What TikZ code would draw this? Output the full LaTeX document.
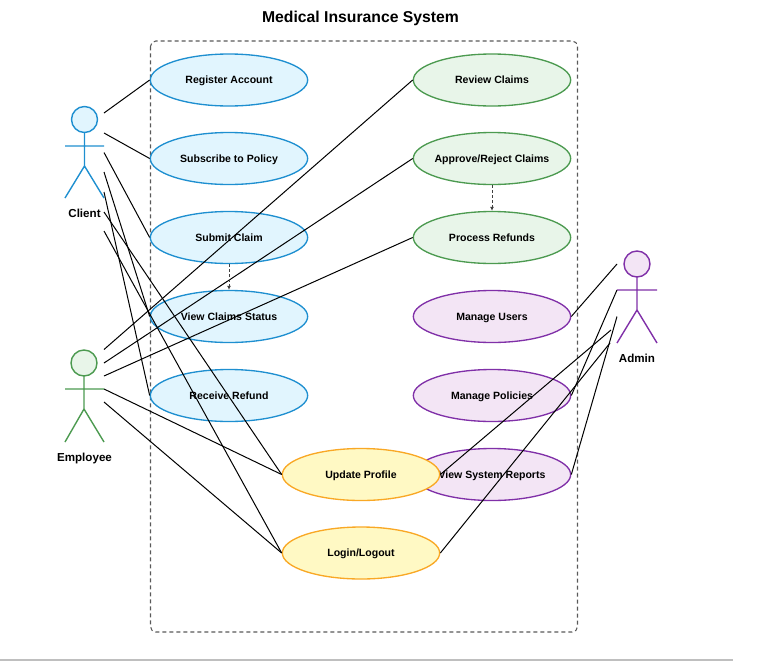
\documentclass[tikz,border=0pt]{standalone}
\usepackage{fontspec}
\setmainfont{Liberation Sans}
\usetikzlibrary{shapes.geometric,arrows.meta}
\begin{document}
\begin{tikzpicture}[x=0.75pt,y=-0.75pt, every node/.style={font=\fontsize{7.9pt}{10pt}\selectfont\bfseries},
  usecase/.style={draw,line width=1pt,ellipse,minimum width=118pt,minimum height=39pt,inner ysep=0pt,inner xsep=-10pt,text height=7pt,text depth=1.5pt},
  client/.style={usecase,draw=clientline,fill=clientfill},
  staff/.style={usecase,draw=staffline,fill=stafffill},
  admin/.style={usecase,draw=adminline,fill=adminfill},
  common/.style={usecase,draw=commonline,fill=commonfill},
  actor/.style={line width=1.05pt},
  actorlabel/.style={font=\fontsize{8.7pt}{10pt}\selectfont\bfseries},
  assoc/.style={black,line width=0.75pt},
  incl/.style={black!75,line width=0.7pt,dash pattern=on 2.25pt off 1.5pt,-{Latex[length=3pt,width=3pt]}}]
\definecolor{clientline}{HTML}{1E8FD0}
\definecolor{clientfill}{HTML}{E1F5FE}
\definecolor{staffline}{HTML}{4C9A50}
\definecolor{stafffill}{HTML}{E8F5E9}
\definecolor{adminline}{HTML}{8030A8}
\definecolor{adminfill}{HTML}{F3E5F5}
\definecolor{commonline}{HTML}{F9A825}
\definecolor{commonfill}{HTML}{FFF9C4}
\useasboundingbox (0,0) rectangle (775,661);
\fill[black!25] (0,658.8) rectangle (733,661);
\node[font=\fontsize{11.8pt}{14pt}\selectfont\bfseries] (title) at (360.5,18.5) {Medical Insurance System};
\draw[black!65,line width=0.8pt,dash pattern=on 3pt off 2.25pt,rounded corners=4pt] (150.5,41) rectangle (577.5,632);
\node[client] (register) at (229,80) {Register Account};
\node[client] (subscribe) at (229,158.5) {Subscribe to Policy};
\node[client] (submit) at (229,237.5) {Submit Claim};
\node[client] (status) at (229,316.5) {View Claims Status};
\node[client] (refund) at (229,395.5) {Receive Refund};
\node[staff] (review) at (492,80) {Review Claims};
\node[staff] (approve) at (492,158.5) {Approve/Reject Claims};
\node[staff] (process) at (492,237.5) {Process Refunds};
\node[admin] (users) at (492,316.5) {Manage Users};
\node[admin] (policies) at (492,395.5) {Manage Policies};
\node[admin] (reports) at (492,474.5) {View System Reports};
\node[common] (profile) at (361,474.5) {Update Profile};
\node[common] (login) at (361,553) {Login/Logout};
% client actor
\draw[clientline,actor,fill=clientfill] (84.5,119.5) circle (9.75pt);
\draw[clientline,actor] (84.5,133) -- (84.5,166) (65,146) -- (104,146) (65,198) -- (84.5,166) -- (104,198);
\node[actorlabel] (clientlabel) at (84.5,213.5) {Client};
% employee actor
\draw[staffline,actor,fill=stafffill] (84,363) circle (9.75pt);
\draw[staffline,actor] (84,376) -- (84,409) (65,389) -- (104,389) (65,442) -- (84,409) -- (104,442);
\node[actorlabel] (stafflabel) at (84.5,458) {Employee};
% admin actor
\draw[adminline,actor,fill=adminfill] (637,264) circle (9.75pt);
\draw[adminline,actor] (637,277) -- (637,310) (617,290) -- (657,290) (617,343) -- (637,310) -- (657,343);
\node[actorlabel] (adminlabel) at (637,358.5) {Admin};
% client links
\coordinate (ca) at (104,113);
\coordinate (cb) at (104,133);
\coordinate (cc) at (104,152.5);
\coordinate (cd) at (104,172);
\coordinate (ce) at (104,192);
\coordinate (cf) at (104,212);
\coordinate (cg) at (104,231);
\draw[assoc] (ca) -- (register.west);
\draw[assoc] (cb) -- (subscribe.west);
\draw[assoc] (cc) -- (submit.west);
\draw[assoc] (cd) -- (status.west);
\draw[assoc] (ce) -- (refund.west);
\draw[assoc] (cf) -- (profile.west);
\draw[assoc] (cg) -- (login.west);
% employee links
\coordinate (ea) at (104,349.5);
\coordinate (eb) at (104,363);
\coordinate (ec) at (104,376);
\coordinate (ed) at (104,389);
\coordinate (ee) at (104,402);
\draw[assoc] (ea) -- (review.west);
\draw[assoc] (eb) -- (approve.west);
\draw[assoc] (ec) -- (process.west);
\draw[assoc] (ed) -- (profile.west);
\draw[assoc] (ee) -- (login.west);
% admin links
\coordinate (aa) at (617,264);
\coordinate (ab) at (617,290);
\coordinate (ac) at (617,316.5);
\coordinate (ad) at (611,330);
\coordinate (ae) at (610,343);
\draw[assoc] (aa) -- (users.east);
\draw[assoc] (ab) -- (policies.east);
\draw[assoc] (ac) -- (reports.east);
\draw[assoc] (ad) -- (profile.east);
\draw[assoc] (ae) -- (login.east);
% includes
\draw[incl] (submit) -- (status);
\draw[incl] (approve) -- (process);
\end{tikzpicture}
\end{document}
